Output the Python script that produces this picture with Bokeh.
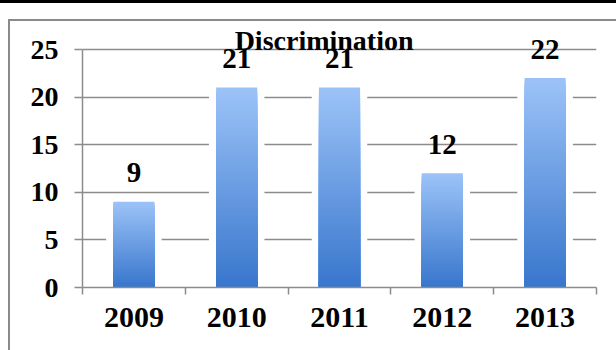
import numpy as np
from bokeh.plotting import figure
from bokeh.models import (Range1d, FixedTicker, Label, ColumnDataSource, InlineStyleSheet)
from bokeh.core.properties import value
from bokeh.embed import file_html
from bokeh.resources import INLINE

# ---- data ----
years = ["2009", "2010", "2011", "2012", "2013"]
counts = [9, 21, 21, 12, 22]
title_text = "Discrimination"
y_ticks = [0, 5, 10, 15, 20, 25]

FONT = "Liberation Serif"
GRID = "#8c8c8c"
Y_MAX = 25
PX_PER_UNIT = 238 / 25.0          # frame scale (25 units over 238 px)
FRAME_TOP_PAD = 29                # px of frame above the 25 gridline

p = figure(width=616, height=350, output_backend="svg", toolbar_location=None,
           x_range=Range1d(0, len(years)),
           y_range=Range1d(0, Y_MAX + FRAME_TOP_PAD / PX_PER_UNIT),
           min_border_left=82, min_border_right=20, min_border_top=20,
           min_border_bottom=63)
p.outline_line_color = None
p.background_fill_color = "white"
p.border_fill_color = "white"

css = """
:host { position: relative; }
:host::before { content: ""; position: absolute; left: 0; top: 0; right: 0; height: 3px;
                background: #000; z-index: 5; pointer-events: none; }
:host::after { content: ""; position: absolute; left: 8px; top: 19px; right: 0; bottom: 0;
               border-left: 2px solid #8a8a8a; border-top: 2px solid #8a8a8a;
               z-index: 5; pointer-events: none; }
"""
p.stylesheets = [InlineStyleSheet(css=css)]

# bars: white glow + gradient (overlapping slices, tallest/lightest first)
xc = np.arange(len(years)) + 0.5
vals = np.array(counts, dtype=float)
p.quad(left=xc - 0.27, right=xc + 0.27, bottom=0, top=vals + 0.5,
       fill_color="white", line_color=None)

N = 60
top_rgb = np.array([156, 195, 248])
bot_rgb = np.array([56, 118, 204])
L, R, T, C = [], [], [], []
for k in range(N, 0, -1):
    f = (k - 0.5) / N
    rgb = bot_rgb + (top_rgb - bot_rgb) * f
    col = "#%02x%02x%02x" % tuple(int(round(c)) for c in rgb)
    for x, v in zip(xc, vals):
        L.append(x - 0.2); R.append(x + 0.2)
        T.append(v * k / N)
        C.append(col)
p.quad(left=L, right=R, bottom=0, top=T, fill_color=C, line_color=None)

# value labels (floated above bar tops)
src = ColumnDataSource(dict(x=xc, y=vals, t=[str(c) for c in counts]))
p.text(x="x", y="y", text="t", source=src, text_align="center",
       text_baseline="alphabetic", y_offset=-29,
       text_font=value(FONT), text_font_style="bold", text_font_size="29px",
       text_color="black")

# title (sits on the top gridline)
p.add_layout(Label(x=2.35, y=Y_MAX, text=title_text, text_align="center",
                   text_baseline="alphabetic", y_offset=9,
                   text_font=FONT, text_font_style="bold", text_font_size="28px",
                   text_color="black"))

# axes
xa = p.xaxis[0]
xa.ticker = FixedTicker(ticks=list(xc), minor_ticks=list(range(len(years) + 1)))
xa.major_label_overrides = {float(x): y for x, y in zip(xc, years)}
xa.major_tick_out = 0
xa.major_tick_in = 0
xa.minor_tick_out = 7
xa.minor_tick_in = 0
xa.minor_tick_line_color = GRID
xa.minor_tick_line_width = 1.5
xa.axis_line_color = GRID
xa.axis_line_width = 1.5
xa.major_label_standoff = 13
xa.major_label_text_font = FONT
xa.major_label_text_font_style = "bold"
xa.major_label_text_font_size = "30px"
xa.major_label_text_color = "black"

ya = p.yaxis[0]
ya.ticker = FixedTicker(ticks=y_ticks)
ya.bounds = (0, Y_MAX)
ya.major_tick_out = 8
ya.major_tick_in = 0
ya.minor_tick_line_color = None
ya.major_tick_line_color = GRID
ya.major_tick_line_width = 1.5
ya.axis_line_color = GRID
ya.axis_line_width = 1.5
ya.major_label_standoff = 16
ya.major_label_text_font = FONT
ya.major_label_text_font_style = "bold"
ya.major_label_text_font_size = "28px"
ya.major_label_text_color = "black"

p.xgrid.grid_line_color = None
p.ygrid.ticker = FixedTicker(ticks=y_ticks)
p.ygrid.grid_line_color = GRID
p.ygrid.grid_line_width = 1.5

html = file_html(p, INLINE)
open("out.html", "w").write(html)
